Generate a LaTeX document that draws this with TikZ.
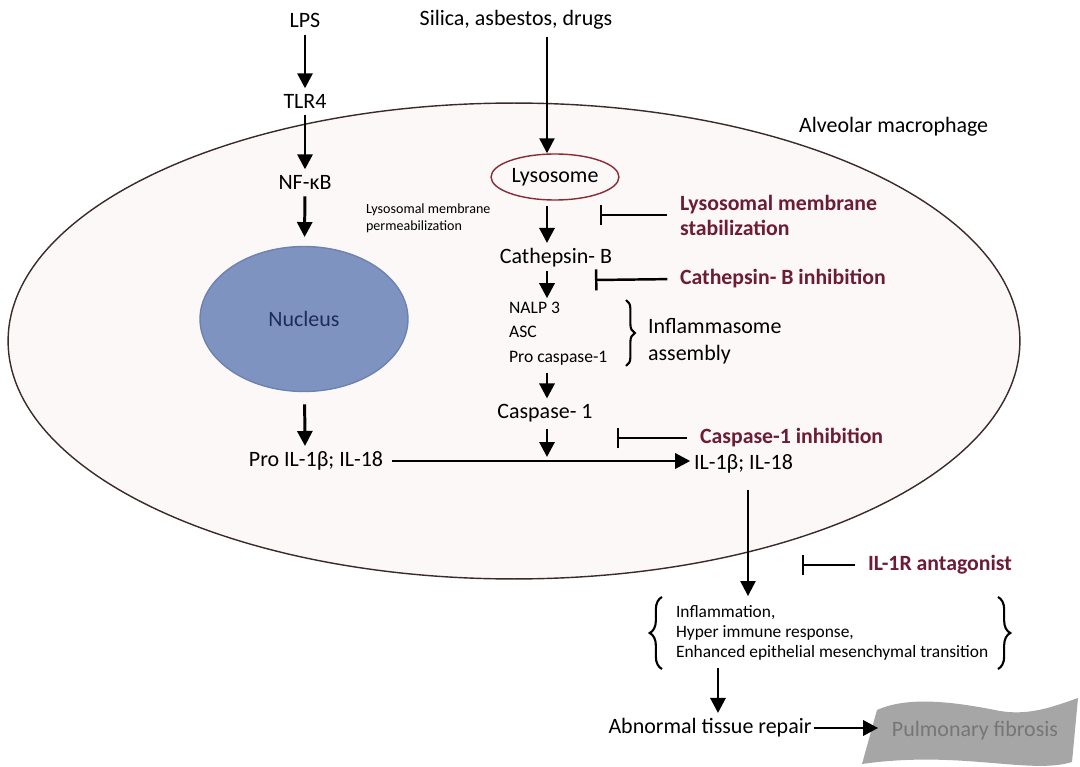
\documentclass[tikz,border=0pt]{standalone}
\usepackage{fontspec}
\setmainfont{Carlito}
\usetikzlibrary{arrows.meta,shapes.geometric,decorations.pathreplacing}
\definecolor{cellfill}{HTML}{FCF8F8}
\definecolor{cellline}{HTML}{3A2A2A}
\definecolor{nucblue}{HTML}{7F93C0}
\definecolor{nucedge}{HTML}{6D82B0}
\definecolor{nuctext}{HTML}{1C2C5C}
\definecolor{drugred}{HTML}{6B1D36}
\definecolor{lysoedge}{HTML}{8A2A35}
\definecolor{fibgray}{HTML}{A6A6A6}
\definecolor{fibtext}{HTML}{767676}

\begin{document}
\begin{tikzpicture}[
    x=0.02cm, y=-0.02cm,
    lbl/.style={font=\fontsize{12.5}{14}\selectfont, inner sep=1pt},
    small/.style={font=\fontsize{10}{13.9}\selectfont, inner sep=1pt, align=left},
    tinytext/.style={font=\fontsize{8}{9.6}\selectfont, inner sep=1pt, align=left},
    drug/.style={font=\fontsize{12.4}{14.2}\selectfont\bfseries, text=drugred,
                 inner sep=1pt, align=left, anchor=west},
    arr/.style={-{Triangle[length=3mm,width=3mm]}, line width=1.7pt,
                shorten <=3pt, shorten >=2pt},
    inhib/.style={-{Bar[width=4.2mm]}, line width=1.4pt, shorten <=6pt},
    curly/.style={decorate, decoration={brace, amplitude=5pt}, line width=1.2pt},
]
    \fill[white] (0,0) rectangle (1080,767);
    \useasboundingbox (0,0) rectangle (1080,767);

    % the cell
    \draw[fill=cellfill, draw=cellline, line width=0.8pt]
        (514,341) ellipse [x radius=10.12cm, y radius=4.76cm];
    \node[lbl, anchor=west] (cellname) at (797,127) {Alveolar macrophage};

    % columns for the vertical arrows
    \coordinate (colL) at (305,0);
    \coordinate (colM) at (547,0);
    \coordinate (colR) at (748,0);
    \coordinate (colE) at (718,0);

    % LPS branch
    \node[lbl] (lps) at (305,20) {LPS};
    \node[lbl] (tlr) at (305,101) {TLR4};
    \node[lbl] (nfkb) at (305,182) {NF-κB};
    \node[ellipse, fill=nucblue, draw=nucedge, line width=0.8pt,
          minimum width=4.16cm, minimum height=2.9cm,
          lbl, text=nuctext] (nucleus) at (304,319) {Nucleus};
    \node[lbl] (proil) at (316,461) {Pro IL-1β; IL-18};

    \draw[arr] (lps) -- (tlr);
    \draw[arr] (tlr) -- (nfkb);
    \draw[arr, shorten >=5pt] (nfkb) -- (nucleus);
    \draw[arr, shorten <=7pt] (nucleus) -- (proil.north -| colL);

    % particle branch
    \node[lbl] (silica) at (516,20) {Silica, asbestos, drugs};
    \node[ellipse, draw=lysoedge, line width=0.8pt, minimum width=2.1cm,
          minimum height=0.92cm, lbl] (lyso) at (555,177) {Lysosome};
    \node[tinytext, anchor=west] (lmp) at (364,218)
        {Lysosomal membrane\\permeabilization};
    \node[lbl] (cathb) at (556,258) {Cathepsin- B};
    \node[small, anchor=north west] (nalp) at (507,300)
        {NALP 3\\ASC\\Pro caspase-1};
    \node[lbl] (casp1) at (545,413) {Caspase- 1};
    \node[lbl, anchor=west] (il) at (692,464) {IL-1β; IL-18};
    \coordinate (join) at (547,457);

    \draw[arr, line width=1.3pt, shorten >=0pt] (silica.south -| colM) -- (lyso.north -| colM);
    \draw[arr] (lyso.south -| colM) -- (cathb.north -| colM);
    \draw[arr, shorten <=1pt, shorten >=1pt] (cathb.south -| colM) -- (nalp.north -| colM);
    \draw[arr] (nalp.south -| colM) -- (casp1.north -| colM);
    \draw[arr, shorten >=0pt] (casp1.south -| colM) -- (join);
    \draw[arr, shorten <=4pt, shorten >=1pt] (proil.east) -- (proil.east -| il.west);

    % inflammasome
    \draw[curly] (626,300) -- (626,366);
    \node[lbl, anchor=west, align=left, font=\fontsize{12.5}{15.5}\selectfont]
        (inflam) at (646,341) {Inflammasome\\assembly};

    % inhibitors
    \node[drug] (lms) at (678,215) {Lysosomal membrane\\stabilization};
    \node[drug] (cbi) at (678,279) {Cathepsin- B inhibition};
    \node[drug] (c1i) at (698,438) {Caspase-1 inhibition};
    \node[drug] (il1r) at (866,565) {IL-1R antagonist};
    \coordinate (bar1) at (600,215);
    \coordinate (bar2) at (595,280);
    \coordinate (bar3) at (617,438);
    \coordinate (bar4) at (802,565);
    \draw[inhib] (lms.west) -- (bar1);
    \draw[inhib] (cbi.west) -- (bar2);
    \draw[inhib] (c1i.west) -- (bar3);
    \draw[inhib] (il1r.west) -- (bar4);

    % outcome
    \node[small, anchor=west, font=\fontsize{9.9}{11.6}\selectfont] (eff) at (674,633)
        {Inflammation,\\Hyper immune response,\\Enhanced epithelial mesenchymal transition};
    \draw[curly, decoration={amplitude=7pt}] (662,669) -- (662,597);
    \draw[curly, decoration={amplitude=7pt}] (998,597) -- (998,669);
    \draw[arr, line width=1.3pt, shorten <=8pt, shorten >=4pt] (il.south -| colR) -- (eff.north -| colR);

    \node[lbl] (repair) at (710,728) {Abnormal tissue repair};
    \draw[arr] (eff.south -| colE) -- (repair.north -| colE);

    \fill[fibgray] (877,710) .. controls (910,695) and (960,703) .. (1000,711)
        .. controls (1030,716) and (1055,706) .. (1078,698)
        -- (1072,762) .. controls (1030,775) and (960,750) .. (862,764) -- cycle;
    \node[lbl, text=fibtext, minimum width=4cm] (fib) at (975,731) {Pulmonary fibrosis};
    \draw[arr, shorten <=0pt] (repair.east) -- ([xshift=4pt]repair.east -| fib.west);
\end{tikzpicture}
\end{document}
